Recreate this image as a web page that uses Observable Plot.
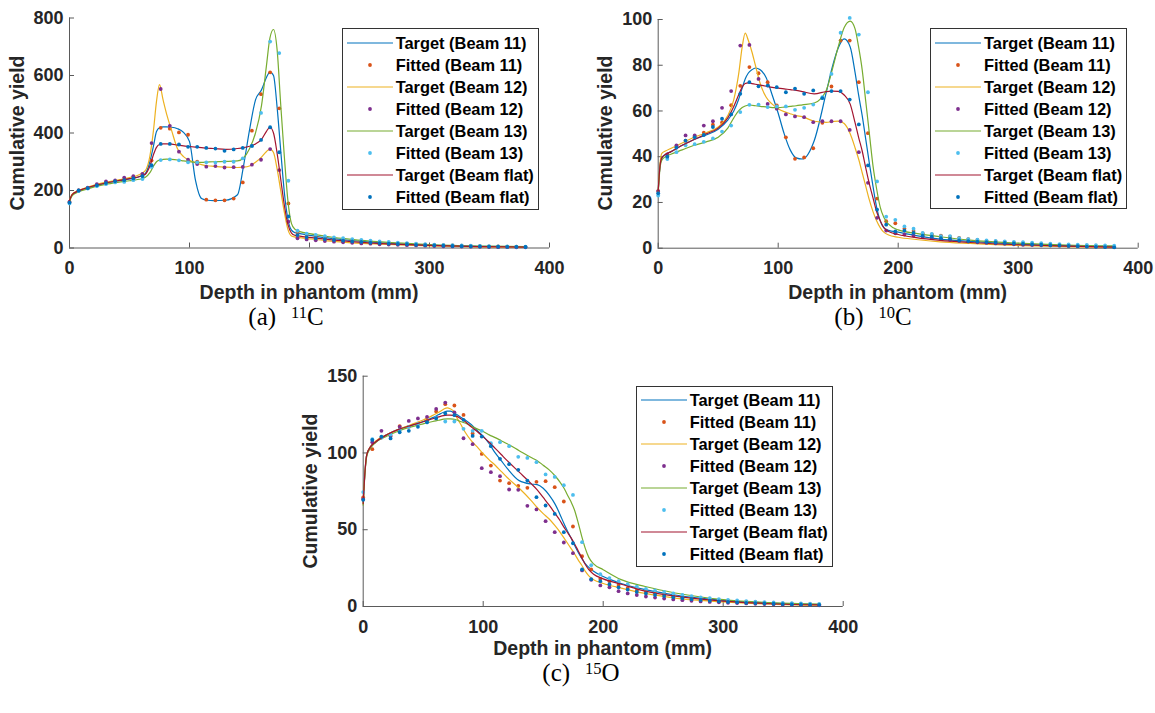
<!DOCTYPE html>
<html>
<head>
<meta charset="utf-8">
<script src="https://cdn.jsdelivr.net/npm/d3@7"></script>
<script src="https://cdn.jsdelivr.net/npm/@observablehq/plot@0.6"></script>
<style>
  html, body { margin: 0; padding: 0; background: #fff; }
  #page { position: relative; width: 1155px; height: 713px; overflow: hidden; background: #fff;
          font-family: "Liberation Sans", Arial, Helvetica, sans-serif; }
  .xlab, .ylab { position: absolute; font-weight: bold; font-size: 19.5px; line-height: 1; color: #262626; white-space: nowrap; }
  .xlab { transform: translate(-50%, -50%); }
  .ylab { transform: translate(-50%, -50%) rotate(-90deg); }
  .cap { position: absolute; transform: translate(-50%, -50%); font-family: "Liberation Serif", "DejaVu Serif", serif;
         font-size: 25px; line-height: 1; color: #000; white-space: nowrap; }
  .cap .tag { margin-right: 15px; }
  .cap sup { font-size: 0.66em; vertical-align: 0.42em; line-height: 0; }
  .legend { position: absolute; border: 1px solid #333; background: #fff; box-sizing: border-box; }
  .legend .row { position: absolute; left: 0; height: 22px; width: 100%; }
  .legend .row span { position: absolute; left: 53px; top: 50%; transform: translateY(-50%);
         font-weight: bold; font-size: 16.4px; line-height: 1; color: #000; white-space: nowrap; }
  .legend .row svg { position: absolute; left: 4px; top: 0; }
</style>
</head>
<body>
<div id="page"></div>
<script>
// ---------------- DATA ----------------
const fitDepth = [0, 7.6, 15.2, 22.8, 30.4, 38, 45.6, 53.2, 60.8, 68.4, 76, 83.6, 91.2, 98.8, 106.4, 114, 121.6, 129.2, 136.8, 144.4, 152, 159.6, 167.2, 174.8, 182.4, 190, 197.6, 205.2, 212.8, 220.4, 228, 235.6, 243.2, 250.8, 258.4, 266, 273.6, 281.2, 288.8, 296.4, 304, 311.6, 319.2, 326.8, 334.4, 342, 349.6, 357.2, 364.8, 372.4, 380];
const targetDepth = [0, 1.5, 3, 6, 10, 20, 30, 40, 50, 58, 63, 67, 70, 72.5, 75, 78, 81, 85, 90, 95, 100, 105, 110, 115, 120, 130, 140, 145, 150, 155, 160, 164, 167, 170, 173, 176, 179, 182, 185, 188, 192, 200, 215, 235, 260, 300, 340, 380];

const xTicks = [0, 100, 200, 300, 400];
const yTicksC11 = [0, 200, 400, 600, 800];
const yTicksC10 = [0, 20, 40, 60, 80, 100];
const yTicksO15 = [0, 50, 100, 150];

const legendLabels = ["Target (Beam 11)", "Fitted (Beam 11)", "Target (Beam 12)", "Fitted (Beam 12)",
                      "Target (Beam 13)", "Fitted (Beam 13)", "Target (Beam flat)", "Fitted (Beam flat)"];
const captions = [["(a)", "11", "C"], ["(b)", "10", "C"], ["(c)", "15", "O"]];
const xLabel = "Depth in phantom (mm)";
const yLabel = "Cumulative yield";

// (a) 11C
const c11Target11 = [165,180,188,195,202,215,225,233,240,248,258,300,355,405,418,421,421,420,415,402,370,235,172,166,165,166,185,285,410,515,550,592,612,600,490,340,195,100,62,53,50,44,35,26,18,10,6,4];
const c11Target12 = [165,182,190,197,204,218,228,236,245,255,268,320,410,510,568,515,465,410,345,318,305,296,290,286,284,281,280,281,285,298,316,335,344,332,275,200,125,65,42,38,36,32,25,18,13,7,4,2.5];
const c11Target13 = [160,177,185,192,199,212,221,228,234,239,245,262,285,300,306,308,309,308,306,303,300,298,298,299,300,301,303,313,345,400,495,630,730,760,690,500,320,165,85,65,57,50,40,30,21,12,7,5];
const c11TargetFlat = [165,181,189,196,203,216,226,234,241,248,256,285,325,350,360,362,362,361,358,355,353,351,349,347,346,343,346,349,354,362,378,405,420,400,330,240,150,82,52,44,41,37,30,22,15,9,5,3];
const c11Fitted11 = [160,200,208,218,226,232,238,244,255,304,418,415,402,394,300,168,166,166,172,228,408,535,611,486,155,55,45,40,36,32,29,26,24,22,20,18,16,15,13,12,11,10,9,8,7,6.5,6,5.5,5,4.5,4];
const c11Fitted12 = [160,200,210,222,232,235,245,250,258,365,553,425,335,307,292,283,285,280,281,282,290,307,344,271,92,34,30,27,24,22,20,18,16,15,13,12,11,10,9,8,7,6,5.5,5,4.5,4,3.5,3,3,2.5,2.5];
const c11Fitted13 = [155,198,207,215,222,228,230,236,240,282,306,308,305,298,298,298,297,300,300,312,355,470,718,678,234,60,50,46,41,37,34,31,28,26,23,21,19,17,15,13,12,11,10,9,8,7,6.5,6,5.5,5,4.5];
const c11FittedFlat = [158,200,208,218,226,232,236,242,250,288,362,362,360,352,352,348,346,338,343,348,355,376,420,333,110,45,38,34,31,28,26,23,21,19,17,15,14,13,11,10,9,8,7,6.5,6,5.5,5,4.5,4,4,3.5];

// (b) 10C
const c10Target11 = [25,36,39.5,41,42,45,47.5,49.5,52,56,60,65,70,74,76.5,78,78.8,78,74.5,67,59,50,43,39.5,39,47,68,79,87.5,91.5,88,77,67,58,47.5,37,27,18,12,9,7.8,7,5.5,4,3,1.8,1.1,0.7];
const c10Target12 = [25,37,41.5,42.5,43.5,46,48.5,50.5,53,58,65,76,88,94,91,86,80,72,66,63,61,59.7,58.8,58,57.5,55.5,55,55.3,55.6,54.5,50,44,39,33,27,21,16,12,9,7,5.8,4.8,3.8,2.8,2.1,1.2,0.7,0.4];
const c10Target13 = [24,35,38.5,40,41,43,45,46.5,48.5,52.5,57,60,61.5,62.2,62.5,62.5,62.3,62,61.8,61.5,61.5,61.7,62,62.3,62.7,63.5,69,78,88,96.5,99.3,96,88,78,64,50,36,26,18,13.5,10.5,8,6.5,5,3.5,2.2,1.4,1];
const c10TargetFlat = [25,36,39.5,41,42,45,47.5,50,52.5,57,62,67,70.5,72,72.3,72,71.7,71.3,70.8,70.3,70,69.7,69.3,69,68.5,67.5,68.5,68.7,68.6,67,63,55,48.5,42.5,35,28,22,16,12,9,7.3,6,4.6,3.4,2.5,1.5,0.9,0.5];
const c10Fitted11 = [25,40,44,47,49,50.5,54,55,62.5,71,79.2,76.5,72.6,62.4,48.5,39.1,39.7,43.7,54.8,70.7,90.8,90.8,72.6,50.3,21.7,11.8,10.9,8.5,7.5,6.5,6,5.5,5,4.5,4,3.6,3.2,3,2.7,2.4,2.2,2,1.8,1.6,1.4,1.2,1.1,1,0.9,0.8,0.7];
const c10Fitted12 = [25,41,45,49.3,49.3,53.6,55.5,61.4,68.7,88.6,88.9,74,63.1,61,58.5,57.6,57.3,55.1,55.5,55.5,55.5,51.7,42,28.6,13.3,7.7,6.5,6,5.5,5,4.5,4,3.6,3.2,2.9,2.6,2.3,2.1,1.9,1.7,1.5,1.4,1.3,1.2,1.1,1,0.9,0.8,0.7,0.6,0.5];
const c10Fitted13 = [23,39,42,45,45.5,46.5,48,51,53.6,59.5,62.7,62.8,61.7,62,62,60.5,61.4,62.8,66,76.2,94.2,100.7,93.4,68.2,29.2,13.8,12.4,9.5,8.5,6.7,6.3,5.3,5.3,4.4,4,3.7,3.4,3.2,3,2.8,2.6,2.4,2.2,2,1.8,1.7,1.5,1.4,1.3,1.2,1.1];
const c10FittedFlat = [24,40,44,47,48.5,49.5,53,56.6,58.5,67.5,72.6,70.8,71.1,70.4,68.2,69.8,67.5,69,65.6,68.7,68.7,65,54.1,36.2,16.9,10.3,7.3,7.7,6.7,5.5,5.1,4.4,4.1,3.4,3.1,2.9,2.7,2.5,2.3,2.1,1.9,1.7,1.5,1.3,1.2,1,0.9,0.7,0.6,0.5,0.4];

// (c) 15O
const o15Target11 = [68,88,99,104,107,112,115.5,118,120.5,123,125,126.5,127.2,127.2,126.5,125,123.5,121.5,118.5,114.6,111,106,100,95,90,82,79.8,79.4,77,72.5,66.5,60,54.5,49.5,45,40,35.5,31.5,28,25.5,23,19.5,15,11,7.5,4,2.2,1.3];
const o15Target12 = [67,88,99,104,107.5,112,115.5,118.5,121.5,124.5,126.5,128.5,129.4,128.8,127.5,123,119,113.5,108,104,99.5,95.5,92,88,84,77,69,64.5,60.5,57,52.5,48.5,45,41.5,38,34.5,30.5,27,23,20,17.5,15,12,8.5,5.5,3,1.6,0.8];
const o15Target13 = [66,87,98,103,106.5,111,114.5,117,119,120.5,121.3,122,122.2,122.2,122,121.5,120.5,119.5,117.5,115.7,114,111.8,110,108,106,101.5,97,95,92,89,85,81,77.5,73,68.5,63,55,46,38,32,27.8,24,17.5,13,8.8,4.5,2.5,1.5];
const o15TargetFlat = [67,88,99,104,107,112,115.5,118,120.3,122.3,123.5,124.3,124.6,124.7,124.5,123.8,122.5,120.5,117,114,110.5,107,103,99,95,87.5,80,76,71,66,60.5,56,52,48.5,45,41,36.5,32,27.5,24,21,18,14.5,10,6.7,3.5,1.8,1];
const o15Fitted11 = [71,102.5,110,111,117.5,117,119,121,127,131.8,130.9,124.8,112.7,99.4,91.8,82,80.3,78.6,77.3,81.2,81.6,77.7,68.4,52.1,32.8,24.1,18,16.5,14,12,10.5,9.5,8.5,7.5,6.5,6,5.5,5,4.5,4,3.6,3.3,3,2.7,2.4,2.2,2,1.8,1.6,1.5,1.4];
const o15Fitted12 = [70,107,114.4,111,117,120.9,122.5,123.5,128.7,132.8,126.5,109.6,105.7,90.1,87.5,84.9,76.2,76,65.6,63.2,55.6,48.4,41.7,34.7,23.5,17.4,13.7,12.5,10,8.5,7.5,6.5,5.8,5.2,4.6,4.1,3.7,3.3,3,2.7,2.4,2.2,2,1.8,1.6,1.4,1.2,1.1,1,0.9,0.8];
const o15Fitted13 = [74.5,109,110,112,115,117,119,120,123,120.5,120.5,115.7,114.4,114.4,106.4,107,104.4,97.5,96.8,94,86,84.4,79,72.7,41.9,26.9,21,18.5,16.5,14.5,13,11.5,10.5,9.5,8.5,7.5,6.7,6,5.4,4.8,4.3,3.9,3.5,3.2,2.9,2.6,2.4,2.2,2,1.8,1.7];
const o15FittedFlat = [69.5,108.5,110.7,109.5,113.5,114.4,117,120,122.5,125.7,124.6,121.6,111.1,110.7,104.4,96.2,92.7,89,82,71.2,65.8,60.3,48.4,41.2,24.1,17.8,16.5,14.5,12.5,11,9.5,8.5,7.5,6.8,6,5.4,4.8,4.3,3.8,3.4,3,2.7,2.4,2.2,2,1.8,1.6,1.4,1.3,1.2,1.1];

// ---------------- STYLE / LAYOUT ----------------
const targetColors = ["#0072BD", "#EDB120", "#77AC30", "#A2142F"];
const fittedColors = ["#D95319", "#7E2F8E", "#4DBEEE", "#0072BD"];
const axisStroke = "#5a5a5a";
const tickText = "#262626";

const panels = [
  { targets: [c11Target11, c11Target12, c11Target13, c11TargetFlat],
    fitted:  [c11Fitted11, c11Fitted12, c11Fitted13, c11FittedFlat], yTicks: yTicksC11,
    svg: {left: 0, top: 0, width: 580, height: 285, ml: 69, mr: 31, mt: 17.5, mb: 37.5},
    legend: {left: 341.7, top: 28.3, w: 197, h: 182},
    xlab: [309, 292.5], ylab: [17.5, 132.5], cap: [286, 316] },
  { targets: [c10Target11, c10Target12, c10Target13, c10TargetFlat],
    fitted:  [c10Fitted11, c10Fitted12, c10Fitted13, c10FittedFlat], yTicks: yTicksC10,
    svg: {left: 590, top: 0, width: 565, height: 285, ml: 67.7, mr: 17.3, mt: 19, mb: 37.3},
    legend: {left: 930, top: 28.3, w: 197.3, h: 181},
    xlab: [897.7, 292.5], ylab: [605.5, 133.3], cap: [873, 316] },
  { targets: [o15Target11, o15Target12, o15Target13, o15TargetFlat],
    fitted:  [o15Fitted11, o15Fitted12, o15Fitted13, o15FittedFlat], yTicks: yTicksO15,
    svg: {left: 290, top: 360, width: 580, height: 285, ml: 72.7, mr: 27.3, mt: 15.7, mb: 39},
    legend: {left: 635.7, top: 386, w: 197, h: 181.3},
    xlab: [602.7, 649], ylab: [310.5, 490.8], cap: [581, 672] }
];

const page = document.getElementById("page");

panels.forEach((p, pi) => {
  const L = p.svg;
  const yMax = p.yTicks[p.yTicks.length - 1];
  const plotW = L.width - L.ml - L.mr, plotH = L.height - L.mt - L.mb;
  const tickLenY = yMax * 5 / plotH;   // 5 px inward tick, in data units
  const tickLenX = 400 * 5 / plotW;
  const marks = [
    Plot.ruleY([0], {stroke: axisStroke, strokeWidth: 1}),
    Plot.ruleX([0], {stroke: axisStroke, strokeWidth: 1}),
    Plot.ruleX(xTicks, {x: d => d, y1: () => 0, y2: () => tickLenY, stroke: axisStroke, strokeWidth: 1}),
    Plot.ruleY(p.yTicks, {y: d => d, x1: () => 0, x2: () => tickLenX, stroke: axisStroke, strokeWidth: 1}),
    Plot.axisX(xTicks, {tickSize: 0, tickPadding: 13.5, fontSize: 18, fontWeight: "bold", fill: tickText, label: null}),
    Plot.axisY(p.yTicks, {tickSize: 0, tickPadding: 6, fontSize: 18, fontWeight: "bold", fill: tickText, label: null})
  ];
  p.targets.forEach((vals, i) => {
    marks.push(Plot.line(targetDepth.map((x, j) => ({x, y: vals[j]})),
      {x: "x", y: "y", stroke: targetColors[i], strokeWidth: 1.2, curve: "monotone-x"}));
    marks.push(Plot.dot(fitDepth.map((x, j) => ({x, y: p.fitted[i][j]})),
      {x: "x", y: "y", fill: fittedColors[i], r: 1.9}));
  });
  const svg = Plot.plot({
    width: L.width, height: L.height,
    marginLeft: L.ml, marginRight: L.mr, marginTop: L.mt, marginBottom: L.mb,
    style: {background: "transparent", overflow: "visible", fontFamily: '"Liberation Sans", Arial, sans-serif', fontSize: "18px"},
    x: {domain: [0, 400], label: null},
    y: {domain: [0, yMax], label: null},
    marks
  });
  svg.style.position = "absolute";
  svg.style.left = L.left + "px";
  svg.style.top = L.top + "px";
  page.appendChild(svg);

  const xl = document.createElement("div");
  xl.className = "xlab"; xl.textContent = xLabel;
  xl.style.left = p.xlab[0] + "px"; xl.style.top = p.xlab[1] + "px";
  page.appendChild(xl);
  const yl = document.createElement("div");
  yl.className = "ylab"; yl.textContent = yLabel;
  yl.style.left = p.ylab[0] + "px"; yl.style.top = p.ylab[1] + "px";
  page.appendChild(yl);

  const cap = document.createElement("div");
  cap.className = "cap";
  cap.style.left = p.cap[0] + "px"; cap.style.top = p.cap[1] + "px";
  const c = captions[pi];
  cap.innerHTML = `<span class="tag">${c[0]}</span><sup>${c[1]}</sup>${c[2]}`;
  page.appendChild(cap);

  const lg = document.createElement("div");
  lg.className = "legend";
  Object.assign(lg.style, {left: p.legend.left + "px", top: p.legend.top + "px",
    width: p.legend.w + "px", height: p.legend.h + "px"});
  legendLabels.forEach((lab, k) => {
    const row = document.createElement("div");
    row.className = "row";
    row.style.top = (14.4 + k * 22 - 11 - 1) + "px";
    const isLine = k % 2 === 0;
    const col = isLine ? targetColors[k / 2] : fittedColors[(k - 1) / 2];
    row.innerHTML = `<svg width="46" height="22">${isLine
      ? `<line x1="0" y1="11" x2="46" y2="11" stroke="${col}" stroke-width="1.2"/>`
      : `<circle cx="23" cy="11" r="1.9" fill="${col}"/>`}</svg><span>${lab}</span>`;
    lg.appendChild(row);
  });
  page.appendChild(lg);
});
</script>
</body>
</html>
